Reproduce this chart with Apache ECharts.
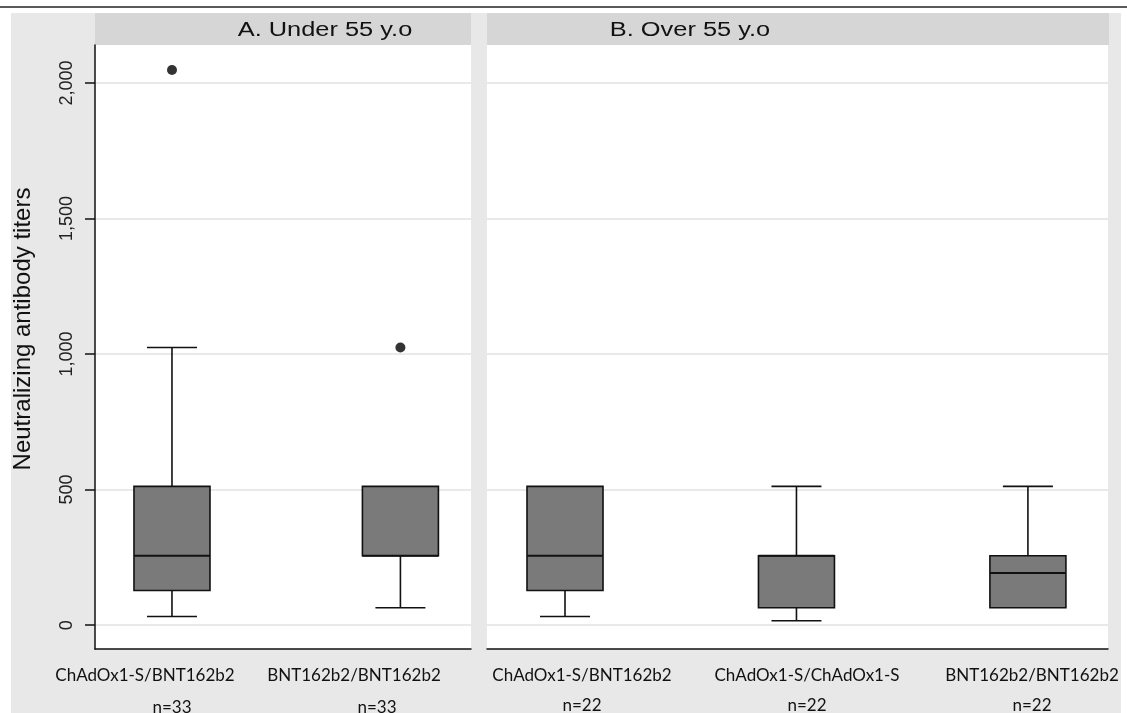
<!DOCTYPE html>
<html>
<head>
<meta charset="utf-8">
<script src="https://cdn.jsdelivr.net/npm/echarts@6/dist/echarts.min.js"></script>
<style>
html,body{margin:0;padding:0;background:#fff;}
#chart{width:1127px;height:713px;}
</style>
</head>
<body>
<div id="chart"></div>
<script>
// ---- data ----
const panelTitles = ['A. Under 55 y.o', 'B. Over 55 y.o'];
const groupsA = ['ChAdOx1-S/BNT162b2', 'BNT162b2/BNT162b2'];
const nA = [33, 33];
// [min, Q1, median, Q3, max]
const boxA = [
  [32, 128, 256, 512, 1024],
  [64, 256, 256, 512, 512]
];
// [group index (1-based), value]
const outliersA = [[1, 2048], [2, 1024]];

const groupsB = ['ChAdOx1-S/BNT162b2', 'ChAdOx1-S/ChAdOx1-S', 'BNT162b2/BNT162b2'];
const nB = [22, 22, 22];
const boxB = [
  [32, 128, 256, 512, 512],
  [16, 64, 256, 256, 512],
  [64, 64, 192, 256, 512]
];
const outliersB = [];

const yTicks = [0, 500, 1000, 1500, 2000];
const yTitle = 'Neutralizing antibody titers';

// ---- chart ----
const chart = echarts.init(document.getElementById('chart'), null, {renderer: 'canvas'});

const INK = '#111';
function renderBox(params, api) {
  const x = api.value(0);
  const v = [1, 2, 3, 4, 5].map(i => api.value(i));
  const pt = val => api.coord([x, val]);
  const cx = pt(v[2])[0];
  const yMin = pt(v[0])[1], yQ1 = pt(v[1])[1], yMed = pt(v[2])[1], yQ3 = pt(v[3])[1], yMax = pt(v[4])[1];
  const hw = 38, cw = 25;
  const ls = {stroke: INK, lineWidth: 1.6};
  const children = [];
  if (v[4] > v[3]) {
    children.push({type: 'line', shape: {x1: cx, y1: yQ3, x2: cx, y2: yMax}, style: ls});
    children.push({type: 'line', shape: {x1: cx - cw, y1: yMax, x2: cx + cw, y2: yMax}, style: ls});
  }
  if (v[0] < v[1]) {
    children.push({type: 'line', shape: {x1: cx, y1: yQ1, x2: cx, y2: yMin}, style: ls});
    children.push({type: 'line', shape: {x1: cx - cw, y1: yMin, x2: cx + cw, y2: yMin}, style: ls});
  }
  children.push({type: 'rect', shape: {x: cx - hw, y: yQ3, width: 2 * hw, height: yQ1 - yQ3},
    style: {fill: '#7a7a7a', stroke: INK, lineWidth: 1.6}});
  children.push({type: 'line', shape: {x1: cx - hw, y1: yMed, x2: cx + hw, y2: yMed}, style: {stroke: INK, lineWidth: 2}});
  return {type: 'group', children: children};
}

const fmt = v => v.toLocaleString('en-US');
const TITLE_FONT = '20px "Liberation Sans", Arial, sans-serif';
const CAT_FONT = '17px Lato, "Open Sans", sans-serif';
function txt(x, y, text, font, extra) {
  return Object.assign({type: 'text', x: x, y: y,
    style: {text: text, font: font, fill: '#111', align: 'center', verticalAlign: 'middle'}}, extra || {});
}

const yBase = {
  type: 'value', min: -88, max: 2140,
  splitLine: {show: true, lineStyle: {color: '#e9e9e9', width: 2}},
  axisTick: {customValues: yTicks}
};

const option = {
  animation: false,
  backgroundColor: '#ffffff',
  graphic: [
    {type: 'rect', z: -10, shape: {x: 11, y: 13, width: 1110, height: 700}, style: {fill: '#e8e8e8'}},
    {type: 'line', shape: {x1: 0, y1: 7, x2: 1127, y2: 7}, style: {stroke: '#222', lineWidth: 1.5}},
    {type: 'rect', shape: {x: 95, y: 13, width: 376, height: 32}, style: {fill: '#d6d6d6'}},
    {type: 'rect', shape: {x: 487, y: 13, width: 622, height: 32}, style: {fill: '#d6d6d6'}},
    txt(325, 30, panelTitles[0], TITLE_FONT, {scaleX: 1.27}),
    txt(690, 30, panelTitles[1], TITLE_FONT, {scaleX: 1.27}),
    txt(23, 329, yTitle, '24px "Liberation Sans", Arial, sans-serif', {rotation: Math.PI / 2}),
    // category labels
    txt(145, 676, groupsA[0], CAT_FONT),
    txt(354, 676, groupsA[1], CAT_FONT),
    txt(172, 708, 'n=' + nA[0], CAT_FONT),
    txt(377, 708, 'n=' + nA[1], CAT_FONT),
    txt(582, 676, groupsB[0], CAT_FONT),
    txt(807, 676, groupsB[1], CAT_FONT),
    txt(1032, 676, groupsB[2], CAT_FONT),
    txt(582, 706, 'n=' + nB[0], CAT_FONT),
    txt(807, 706, 'n=' + nB[1], CAT_FONT),
    txt(1032, 706, 'n=' + nB[2], CAT_FONT)
  ],
  grid: [
    {left: 95, top: 45, width: 376, height: 604, show: true, backgroundColor: '#ffffff', borderWidth: 0},
    {left: 487, top: 45, width: 621, height: 604, show: true, backgroundColor: '#ffffff', borderWidth: 0}
  ],
  xAxis: [
    {gridIndex: 0, type: 'value', min: 0.663, max: 2.309,
      axisLine: {show: true, onZero: false, lineStyle: {color: '#111', width: 1.5}},
      axisTick: {show: false}, axisLabel: {show: false}, splitLine: {show: false}},
    {gridIndex: 1, type: 'value', min: 0.663, max: 3.346,
      axisLine: {show: true, onZero: false, lineStyle: {color: '#111', width: 1.5}},
      axisTick: {show: false}, axisLabel: {show: false}, splitLine: {show: false}}
  ],
  yAxis: [
    Object.assign({}, yBase, {gridIndex: 0,
      axisLine: {show: true, onZero: false, lineStyle: {color: '#111', width: 1.5}},
      axisTick: {show: true, customValues: yTicks, length: 10, lineStyle: {color: '#111', width: 1.5}},
      axisLabel: {show: true, customValues: yTicks, rotate: 90, margin: 19, formatter: fmt,
        fontFamily: '"Liberation Sans", Arial, sans-serif', fontSize: 18, color: '#222'}}),
    Object.assign({}, yBase, {gridIndex: 1,
      axisLine: {show: false},
      axisTick: {show: false, customValues: yTicks},
      axisLabel: {show: false, customValues: yTicks}})
  ],
  series: [
    {type: 'custom', xAxisIndex: 0, yAxisIndex: 0, renderItem: renderBox,
      encode: {x: 0, y: [1, 2, 3, 4, 5]},
      data: boxA.map((b, i) => [i + 1].concat(b))},
    {type: 'scatter', xAxisIndex: 0, yAxisIndex: 0, symbol: 'circle', symbolSize: 10,
      itemStyle: {color: '#000'}, data: outliersA},
    {type: 'custom', xAxisIndex: 1, yAxisIndex: 1, renderItem: renderBox,
      encode: {x: 0, y: [1, 2, 3, 4, 5]},
      data: boxB.map((b, i) => [i + 1].concat(b))},
    {type: 'scatter', xAxisIndex: 1, yAxisIndex: 1, symbol: 'circle', symbolSize: 10,
      itemStyle: {color: '#000'}, data: outliersB}
  ]
};
chart.setOption(option);
</script>
</body>
</html>
